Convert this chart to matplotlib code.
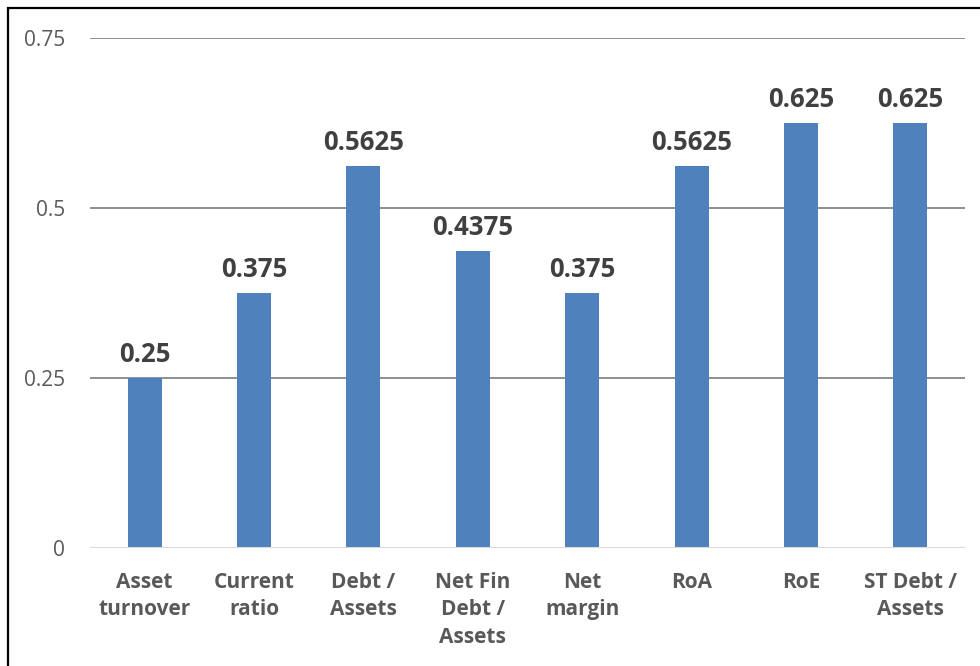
import matplotlib
matplotlib.use("Agg")
import matplotlib.pyplot as plt
from matplotlib.patches import Rectangle

categories = ["Asset\nturnover", "Current\nratio", "Debt /\nAssets", "Net Fin\nDebt /\nAssets",
              "Net\nmargin", "RoA", "RoE", "ST Debt /\nAssets"]
values = [0.25, 0.375, 0.5625, 0.4375, 0.375, 0.5625, 0.625, 0.625]
value_labels = ["0.25", "0.375", "0.5625", "0.4375", "0.375", "0.5625", "0.625", "0.625"]
y_ticks = [0, 0.25, 0.5, 0.75]
y_tick_labels = ["0", "0.25", "0.5", "0.75"]

W, H = 980, 666
fig = plt.figure(figsize=(W / 100, H / 100), dpi=100)
ax = fig.add_axes([90 / W, 1 - 548 / H, (965 - 90) / W, (548 - 38) / H])

x = list(range(len(categories)))
ax.bar(x, values, width=0.31, color="#4F81BD", zorder=3)

ax.set_xlim(-0.5, len(categories) - 0.5)
ax.set_ylim(0, 0.75)
ax.set_yticks(y_ticks)
ax.set_yticklabels(y_tick_labels, fontsize=15, color="#595959", family="Open Sans")
ax.set_xticks(x)
ax.set_xticklabels(categories, fontsize=15, color="#595959", family="Open Sans",
                   fontweight="bold", linespacing=1.42, va="top")
ax.tick_params(axis="both", length=0)
ax.tick_params(axis="y", pad=18)
ax.tick_params(axis="x", pad=17)

for t in y_ticks[1:]:
    ax.axhline(t, color="#878787", linewidth=1.3, zorder=1)
ax.axhline(0, color="#D9D9D9", linewidth=1.5, zorder=4)

for s in ax.spines.values():
    s.set_visible(False)

for xi, v, lab in zip(x, values, value_labels):
    ax.annotate(lab, (xi, v), xytext=(0, 7), textcoords="offset points",
                ha="center", va="bottom", fontsize=18.5, fontweight="bold",
                color="#404040", family="Open Sans")

# outer frame around the chart area
fig.patches.append(Rectangle((7.5 / W, -0.2), 1.2, 0.2 + (H - 8) / H,
                             transform=fig.transFigure, fill=False,
                             edgecolor="black", linewidth=1.6))

fig.savefig("out.png", dpi=100)
